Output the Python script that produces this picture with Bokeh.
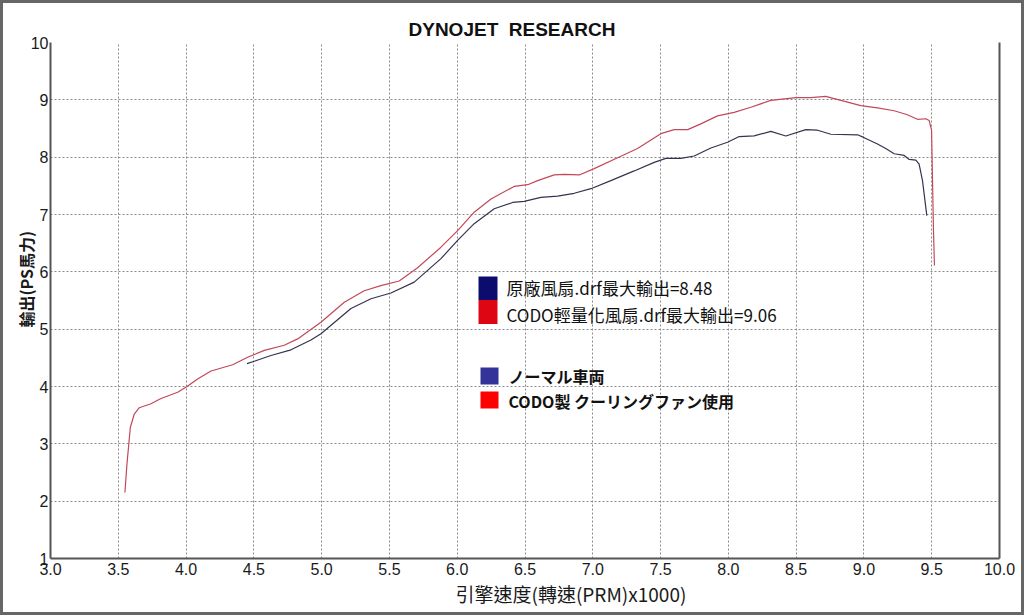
from bokeh.plotting import figure
from bokeh.models import FixedTicker, LinearAxis, Label, BoxAnnotation, Range1d, Title
from bokeh.embed import file_html
from bokeh.resources import INLINE

# ---- data (rpm x1000, PS) ----
codo_rpm = [3.549, 3.564, 3.589, 3.618, 3.655, 3.741, 3.815, 3.938, 4.007, 4.085, 4.184, 4.344,
            4.454, 4.577, 4.724, 4.823, 4.995, 5.167, 5.314, 5.437, 5.572, 5.708, 5.88, 6.003,
            6.125, 6.249, 6.42, 6.52, 6.593, 6.716, 6.789, 6.90, 7.01, 7.183, 7.33, 7.502,
            7.60, 7.70, 7.797, 7.92, 8.043, 8.166, 8.313, 8.498, 8.608, 8.718, 8.83, 8.977,
            9.10, 9.223, 9.321, 9.395, 9.457, 9.481, 9.499, 9.506, 9.513, 9.52]
codo_ps = [2.15, 2.65, 3.29, 3.52, 3.63, 3.70, 3.79, 3.90, 4.00, 4.13, 4.27, 4.38,
           4.51, 4.63, 4.72, 4.83, 5.12, 5.47, 5.67, 5.76, 5.84, 6.07, 6.43, 6.72,
           7.04, 7.27, 7.49, 7.52, 7.59, 7.69, 7.70, 7.69, 7.80, 7.99, 8.15, 8.41,
           8.48, 8.48, 8.58, 8.72, 8.78, 8.87, 8.99, 9.04, 9.04, 9.06, 8.99, 8.90,
           8.86, 8.81, 8.74, 8.66, 8.67, 8.64, 8.47, 7.59, 6.72, 6.11]

normal_rpm = [4.449, 4.503, 4.626, 4.774, 4.921, 4.995, 5.216, 5.364, 5.511, 5.683, 5.88, 6.003,
              6.125, 6.273, 6.409, 6.494, 6.617, 6.74, 6.863, 6.986, 7.133, 7.305, 7.453, 7.539,
              7.65, 7.748, 7.871, 7.994, 8.08, 8.19, 8.313, 8.424, 8.571, 8.658, 8.756, 8.953,
              9.002, 9.10, 9.161, 9.223, 9.297, 9.334, 9.383, 9.407, 9.432, 9.464]
normal_ps = [4.40, 4.44, 4.54, 4.64, 4.81, 4.92, 5.36, 5.53, 5.63, 5.82, 6.23, 6.55,
             6.84, 7.10, 7.21, 7.23, 7.30, 7.32, 7.37, 7.45, 7.59, 7.76, 7.91, 7.98,
             7.98, 8.02, 8.16, 8.26, 8.36, 8.37, 8.45, 8.37, 8.48, 8.47, 8.40, 8.39,
             8.34, 8.23, 8.15, 8.06, 8.03, 7.96, 7.95, 7.88, 7.59, 6.98]

x_ticks = [3.0, 3.5, 4.0, 4.5, 5.0, 5.5, 6.0, 6.5, 7.0, 7.5, 8.0, 8.5, 9.0, 9.5, 10.0]
x_tick_labels = ["3.0", "3.5", "4.0", "4.5", "5.0", "5.5", "6.0", "6.5", "7.0", "7.5",
                 "8.0", "8.5", "9.0", "9.5", "10.0"]
y_ticks = [1, 2, 3, 4, 5, 6, 7, 8, 9, 10]

title_text = "DYNOJET\u00a0\u00a0RESEARCH"
x_label = "引擎速度(轉速(PRM)x1000)"
y_label = "輸出(PS馬力)"
legend1 = ["原廠風扇.drf最大輸出=8.48", "CODO輕量化風扇.drf最大輸出=9.06"]
legend2 = ["ノーマル車両", "CODO製 クーリングファン使用"]

# ---- layout (page px) ----
W, H = 1024, 615
PL, PR, PT, PB = 50, 999, 42, 558          # frame edges on the page
XMIN, XMAX, YMIN, YMAX = 3.0, 10.0, 1.0, 10.0

def X(px):
    return XMIN + (px - PL) * (XMAX - XMIN) / (PR - PL)

def Y(py):
    return YMAX - (py - PT) * (YMAX - YMIN) / (PB - PT)

p = figure(width=W, height=H, output_backend="svg", toolbar_location=None,
           x_range=Range1d(XMIN, XMAX), y_range=Range1d(YMIN, YMAX),
           min_border_left=PL, min_border_right=W - PR, min_border_top=PT,
           min_border_bottom=H - PB)
p.outline_line_color = None
p.background_fill_color = "white"
p.border_fill_color = None
p.styles = {"background-color": "white", "box-shadow": "inset 0 0 0 3px #666666"}

# title
p.title.text = title_text
p.title.align = "left"
p.title.offset = 358
p.title.standoff = 6
p.title.text_font = "Liberation Sans"
p.title.text_font_style = "bold"
p.title.text_font_size = "19px"
p.title.text_color = "#111111"

# grid
for g in (p.xgrid, p.ygrid):
    g.grid_line_color = "#8a8a8a"
    g.grid_line_dash = "2 2"
    g.grid_line_width = 1
p.xgrid.ticker = FixedTicker(ticks=x_ticks)
p.ygrid.ticker = FixedTicker(ticks=y_ticks)

# axes
xa = p.xaxis[0]
xa.ticker = FixedTicker(ticks=x_ticks)
xa.major_label_overrides = {t: l for t, l in zip(x_ticks, x_tick_labels)}
ya = p.yaxis[0]
ya.ticker = FixedTicker(ticks=y_ticks)
for a in (xa, ya):
    a.axis_line_color = "#555555"
    a.axis_line_width = 2
    a.major_tick_line_color = None
    a.minor_tick_line_color = None
    a.major_tick_out = 0
    a.major_tick_in = 0
    a.major_label_text_font = "Liberation Sans"
    a.major_label_text_font_size = "16px"
    a.major_label_text_color = "#1a1a1a"
xa.major_label_standoff = 4
ya.major_label_standoff = 2

ra = LinearAxis(ticker=FixedTicker(ticks=[]), major_label_text_font_size="0px",
                major_tick_line_color=None, minor_tick_line_color=None,
                axis_line_color="#555555", axis_line_width=2)
p.add_layout(ra, "right")

# axis titles
p.add_layout(Title(text=x_label, align="left", offset=405, standoff=0,
                   text_font="Noto Sans CJK TC", text_font_style="normal",
                   text_font_size="19px", text_color="#1a1a1a"), "below")
p.add_layout(Title(text=y_label, align="left", offset=231, standoff=-20,
                   text_font="Noto Sans CJK TC", text_font_style="bold",
                   text_font_size="16px", text_color="#1a1a1a"), "left")

# curves
p.line(normal_rpm, normal_ps, line_color="#34344e", line_width=1.2)
p.line(codo_rpm, codo_ps, line_color="#c2485a", line_width=1.2)

# legend 1 (stacked blocks)
p.add_layout(BoxAnnotation(left=X(478), right=X(497), top=Y(276), bottom=Y(299.5),
                           fill_color="#0c0c6e", fill_alpha=1, line_color=None))
p.add_layout(BoxAnnotation(left=X(478), right=X(497), top=Y(299.5), bottom=Y(323.5),
                           fill_color="#dd0612", fill_alpha=1, line_color=None))
for txt, py in zip(legend1, [287, 314]):
    p.add_layout(Label(x=X(506), y=Y(py), text=txt, text_align="left", text_baseline="middle",
                       text_font="Noto Sans CJK TC", text_font_size="17px", text_color="#111111"))

# legend 2
p.add_layout(BoxAnnotation(left=X(480), right=X(498), top=Y(367), bottom=Y(384),
                           fill_color="#333399", fill_alpha=1, line_color=None))
p.add_layout(BoxAnnotation(left=X(480), right=X(498), top=Y(391), bottom=Y(408),
                           fill_color="#ff0000", fill_alpha=1, line_color=None))
for txt, py in zip(legend2, [375, 400]):
    p.add_layout(Label(x=X(508), y=Y(py), text=txt, text_align="left", text_baseline="middle",
                       text_font="Noto Sans CJK JP", text_font_style="bold",
                       text_font_size="16px", text_color="#111111"))

open("out.html", "w").write(file_html(p, INLINE))
